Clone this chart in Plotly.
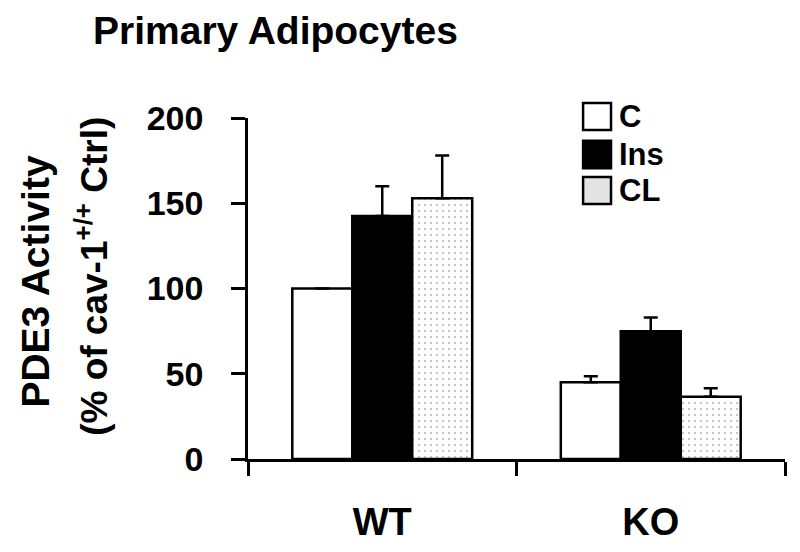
import plotly.graph_objects as go

GROUPS = ["WT", "KO"]
SERIES = ["C", "Ins", "CL"]
VALUES = {
    "C": [100, 45],
    "Ins": [142.5, 75],
    "CL": [153, 36.5],
}
ERRORS = {
    "C": [0, 3.5],
    "Ins": [17.5, 8],
    "CL": [25, 5],
}
Y_TICKS = [0, 50, 100, 150, 200]

FONT = "Arial, Liberation Sans, sans-serif"
FILLS = {"C": "white", "Ins": "black", "CL": "white"}

fig = go.Figure()
for name in SERIES:
    pattern = dict(shape="")
    if name == "CL":
        pattern = dict(shape=".", fgcolor="#8a8a8a", bgcolor="white", size=6, solidity=0.12)
    fig.add_trace(
        go.Bar(
            x=GROUPS,
            y=VALUES[name],
            name=name,
            marker=dict(color=FILLS[name], line=dict(color="black", width=2.5), pattern=pattern),
            error_y=dict(
                type="data",
                array=ERRORS[name],
                arrayminus=[0] * len(GROUPS),
                symmetric=False,
                visible=True,
                color="black",
                thickness=2.5,
                width=7,
            ),
            showlegend=False,
        )
    )

# hand-drawn legend (bigger boxes than plotly's built-in legend symbols)
legend_fill = {"C": "white", "Ins": "black", "CL": "#e4e4e4"}
box_x = (0.624, 0.676)
box_y = [(0.965, 1.044), (0.853, 0.933), (0.748, 0.827)]
for name, (y0, y1) in zip(SERIES, box_y):
    fig.add_shape(
        type="rect", xref="paper", yref="paper",
        x0=box_x[0], x1=box_x[1], y0=y0, y1=y1,
        fillcolor=legend_fill[name], line=dict(color="black", width=2.5),
    )
    fig.add_annotation(
        xref="paper", yref="paper", x=box_x[1] + 0.012, y=(y0 + y1) / 2,
        text=name, showarrow=False, xanchor="left", yanchor="middle",
        font=dict(size=31, color="black", family=FONT, weight="bold"),
    )

# y-axis title, two lines
fig.add_annotation(
    xref="paper", yref="paper", x=-0.395, y=0.52, textangle=-90,
    text="PDE3 Activity", showarrow=False, xanchor="center", yanchor="middle",
    font=dict(size=39, color="black", family=FONT, weight="bold"),
)
fig.add_annotation(
    xref="paper", yref="paper", x=-0.29, y=0.535, textangle=-90,
    text="(% of cav-1<sup>+/+</sup> Ctrl)", showarrow=False, xanchor="center", yanchor="middle",
    font=dict(size=37, color="black", family=FONT, weight="bold"),
)

# the page body adds an 8px offset, so margins are shifted to compensate
fig.update_layout(
    width=800,
    height=552,
    margin=dict(l=240, r=23, t=110, b=101, autoexpand=False),
    paper_bgcolor="white",
    plot_bgcolor="white",
    barmode="group",
    bargap=0.33,
    bargroupgap=0,
    font=dict(family=FONT, color="black"),
    title=dict(
        text="Primary Adipocytes",
        xref="container", x=85 / 800, xanchor="left",
        yref="container", y=1 - 22 / 552, yanchor="middle",
        font=dict(size=39, color="black", family=FONT, weight="bold"),
    ),
)

fig.update_xaxes(
    type="category",
    range=[-0.5, 1.5],
    automargin=False,
    showline=True, linecolor="black", linewidth=2.5,
    ticks="outside", tickson="boundaries", ticklen=14, tickwidth=2.5, tickcolor="black",
    tickfont=dict(size=38, color="black", family=FONT, weight="bold"),
    ticklabelstandoff=28,
    showgrid=False, zeroline=False,
)
fig.update_yaxes(
    range=[0, 200],
    automargin=False,
    tickvals=Y_TICKS,
    showline=True, linecolor="black", linewidth=2.5,
    ticks="outside", ticklen=14, tickwidth=2.5, tickcolor="black",
    tickfont=dict(size=34, color="black", family=FONT, weight="bold"),
    ticklabelstandoff=21,
    showgrid=False, zeroline=False,
)

fig.write_html("out.html")
